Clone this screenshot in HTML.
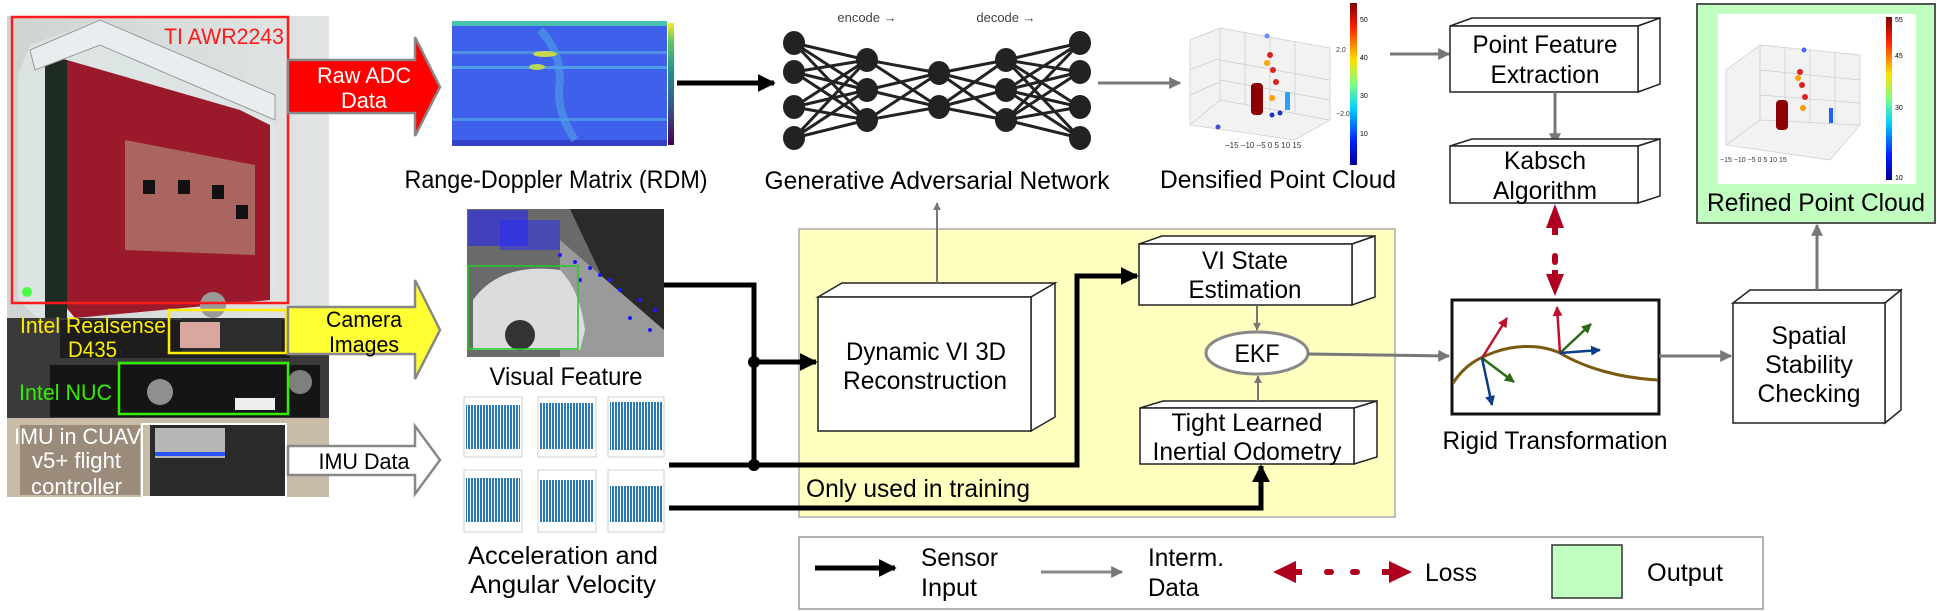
<!DOCTYPE html>
<html><head><meta charset="utf-8"><style>
html,body{margin:0;padding:0;background:#fff}
svg{display:block}
text{font-family:"Liberation Sans",sans-serif}
</style></head><body>
<svg width="1937" height="611" viewBox="0 0 1937 611" xmlns="http://www.w3.org/2000/svg">
<defs>
<marker id="gh" viewBox="0 0 10 10" refX="9" refY="5" markerWidth="4" markerHeight="4" orient="auto"><path d="M0,0 L10,5 L0,10 z" fill="#777"/></marker>
<marker id="bh" viewBox="0 0 10 10" refX="9" refY="5" markerWidth="3.6" markerHeight="3.6" orient="auto"><path d="M0,0 L10,5 L0,10 z" fill="#000"/></marker>
<marker id="rh" viewBox="0 0 10 10" refX="9" refY="5" markerWidth="3" markerHeight="3" orient="auto"><path d="M0,0 L10,5 L0,10 z" fill="#b00020"/></marker>
<marker id="gr" viewBox="0 0 10 10" refX="9" refY="5" markerWidth="4" markerHeight="4" orient="auto"><path d="M0,0 L10,5 L0,10 z" fill="#2a6a10"/></marker>
<marker id="bl" viewBox="0 0 10 10" refX="9" refY="5" markerWidth="4" markerHeight="4" orient="auto"><path d="M0,0 L10,5 L0,10 z" fill="#0a3d8a"/></marker>
<marker id="re" viewBox="0 0 10 10" refX="9" refY="5" markerWidth="4" markerHeight="4" orient="auto"><path d="M0,0 L10,5 L0,10 z" fill="#c0102a"/></marker>
<linearGradient id="jet" x1="0" y1="1" x2="0" y2="0">
<stop offset="0" stop-color="#00008f"/><stop offset="0.15" stop-color="#0020ff"/><stop offset="0.35" stop-color="#00d0ff"/><stop offset="0.5" stop-color="#7fff7f"/><stop offset="0.65" stop-color="#ffdf00"/><stop offset="0.85" stop-color="#ff2000"/><stop offset="1" stop-color="#800000"/></linearGradient>
<linearGradient id="vir" x1="0" y1="1" x2="0" y2="0"><stop offset="0" stop-color="#440154"/><stop offset="0.3" stop-color="#3b528b"/><stop offset="0.6" stop-color="#21908d"/><stop offset="0.85" stop-color="#5dc962"/><stop offset="1" stop-color="#fde725"/></linearGradient>
<linearGradient id="wall" x1="0" y1="0" x2="1" y2="0"><stop offset="0" stop-color="#cfd4d3"/><stop offset="1" stop-color="#e2e5e4"/></linearGradient>
<pattern id="imu" width="3" height="10" patternUnits="userSpaceOnUse"><rect width="3" height="10" fill="#fff"/><rect x="0" width="2" height="10" fill="#2878b5"/></pattern>
</defs>

<!-- PHOTO -->
<rect x="7" y="16" width="322" height="481" fill="url(#wall)"/>
<polygon points="18,75 30,45 100,20 275,95 275,295 40,320 18,300" fill="#dfe6e6" opacity="0.8"/>
<polygon points="60,58 240,110 270,125 270,300 75,318 60,300" fill="#9a1a2c"/>
<polygon points="125,140 255,165 255,255 125,250" fill="#b8a48e" opacity="0.55"/>
<rect x="143" y="180" width="12" height="14" fill="#111"/><rect x="178" y="180" width="12" height="14" fill="#111"/><rect x="212" y="185" width="12" height="14" fill="#111"/><rect x="236" y="205" width="12" height="14" fill="#111"/>
<rect x="45" y="60" width="22" height="260" fill="#1d2b22"/>
<polygon points="30,50 100,20 275,95 275,120 100,45 35,70" fill="#e8eef0" stroke="#999"/>
<circle cx="213" cy="305" r="13" fill="#9a9a9a"/>
<circle cx="27" cy="292" r="5" fill="#4f4"/>
<rect x="7" y="318" width="322" height="100" fill="#3a3a3a"/>
<rect x="60" y="320" width="230" height="38" fill="#1d1d1d"/>
<rect x="182" y="318" width="100" height="36" fill="#2c2c2c"/>
<rect x="180" y="322" width="40" height="26" fill="#d9a6a0"/>
<rect x="50" y="365" width="270" height="52" fill="#151515"/>
<circle cx="160" cy="392" r="13" fill="#8f8f8f"/>
<circle cx="300" cy="382" r="12" fill="#7f7f7f"/>
<rect x="235" y="398" width="40" height="12" fill="#eee"/>
<rect x="7" y="418" width="322" height="79" fill="#c8bca9"/>
<rect x="150" y="425" width="136" height="72" fill="#2a2a2a"/>
<rect x="155" y="428" width="70" height="30" fill="#b7b7b7"/>
<rect x="155" y="452" width="70" height="4" fill="#2c55ff"/>
<rect x="20" y="425" width="120" height="70" fill="#7b6b5c" opacity="0.6"/>
<rect x="12" y="17" width="276" height="286" fill="none" stroke="#ff1a1a" stroke-width="2.5"/>
<rect x="169" y="310" width="117" height="43" fill="none" stroke="#ffee00" stroke-width="2.5"/>
<rect x="119" y="363" width="169" height="51" fill="none" stroke="#33ee00" stroke-width="2.5"/>
<rect x="142" y="424" width="144" height="73" fill="none" stroke="#fff" stroke-width="2"/>
<text x="284" y="44" font-size="22" fill="#ff1a1a" text-anchor="end" textLength="120" lengthAdjust="spacingAndGlyphs">TI AWR2243</text>
<text x="20" y="333" font-size="22" fill="#ffee00" textLength="146" lengthAdjust="spacingAndGlyphs">Intel Realsense</text>
<text x="68" y="357" font-size="22" fill="#ffee00" textLength="49" lengthAdjust="spacingAndGlyphs">D435</text>
<text x="19" y="400" font-size="22" fill="#33ee00" textLength="93" lengthAdjust="spacingAndGlyphs">Intel NUC</text>
<text x="14" y="444" font-size="22" fill="#fff" textLength="127" lengthAdjust="spacingAndGlyphs">IMU in CUAV</text>
<text x="32" y="468" font-size="22" fill="#fff" textLength="89" lengthAdjust="spacingAndGlyphs">v5+ flight</text>
<text x="31" y="494" font-size="22" fill="#fff" textLength="91" lengthAdjust="spacingAndGlyphs">controller</text>

<!-- Big arrows -->
<polygon points="288,60 415,60 415,37 440,87 415,136 415,113 288,113" fill="#ff0000" stroke="#888" stroke-width="2.5"/>
<text x="364" y="83" font-size="22" fill="#fff" text-anchor="middle" textLength="94" lengthAdjust="spacingAndGlyphs">Raw ADC</text>
<text x="364" y="108" font-size="22" fill="#fff" text-anchor="middle" textLength="46" lengthAdjust="spacingAndGlyphs">Data</text>
<polygon points="288,307 415,307 415,280 440,330 415,379 415,354 288,354" fill="#ffff33" stroke="#888" stroke-width="2.5"/>
<text x="364" y="327" font-size="22" fill="#000" text-anchor="middle" textLength="76" lengthAdjust="spacingAndGlyphs">Camera</text>
<text x="364" y="352" font-size="22" fill="#000" text-anchor="middle" textLength="70" lengthAdjust="spacingAndGlyphs">Images</text>
<polygon points="288,446 415,446 415,426 440,460 415,494 415,475 288,475" fill="#fff" stroke="#888" stroke-width="2.5"/>
<text x="364" y="469" font-size="22" fill="#000" text-anchor="middle" textLength="91" lengthAdjust="spacingAndGlyphs">IMU Data</text>

<!-- RDM -->
<rect x="452" y="21" width="215" height="125" fill="#3f60ea"/>
<rect x="452" y="21" width="215" height="5" fill="#48c3b0"/>
<rect x="452" y="51" width="215" height="3" fill="#4f8fe6"/>
<rect x="452" y="66" width="215" height="3" fill="#4f9ee6"/>
<rect x="452" y="118" width="215" height="3" fill="#4a90e6"/>
<rect x="452" y="140" width="215" height="6" fill="#3340c8"/>
<path d="M540,30 Q560,50 560,80 Q555,110 575,140" stroke="#4fa0e6" stroke-width="8" fill="none" opacity="0.6"/>
<ellipse cx="545" cy="54" rx="12" ry="3" fill="#c9d84a"/>
<ellipse cx="537" cy="67" rx="8" ry="3" fill="#b8d855"/>
<rect x="668" y="23" width="6" height="122" fill="url(#vir)"/>
<text x="556" y="188" font-size="25" text-anchor="middle" textLength="303" lengthAdjust="spacingAndGlyphs">Range-Doppler Matrix (RDM)</text>

<!-- Visual feature -->
<rect x="467" y="209" width="197" height="148" fill="#6a6a6a"/>
<polygon points="570,209 664,209 664,357 640,357" fill="#2a2a2a"/>
<polygon points="560,240 664,330 664,357 560,357" fill="#9a9a9a"/>
<path d="M473,300 Q500,262 560,270 Q580,290 585,330 L580,350 L473,350 z" fill="#dcdcdc"/>
<circle cx="520" cy="335" r="15" fill="#333"/>
<g fill="#1a1aff">
<rect x="468" y="210" width="60" height="36" fill="#3030e0" opacity="0.7"/>
<rect x="500" y="220" width="60" height="30" fill="#2a2aff" opacity="0.5"/>
<circle cx="560" cy="255" r="2"/><circle cx="575" cy="262" r="2"/><circle cx="590" cy="268" r="2"/><circle cx="600" cy="275" r="2"/><circle cx="620" cy="290" r="2"/><circle cx="640" cy="300" r="2"/><circle cx="655" cy="310" r="2"/><circle cx="650" cy="330" r="2"/><circle cx="580" cy="280" r="2"/><circle cx="610" cy="280" r="2"/><circle cx="630" cy="318" r="2"/>
</g>
<rect x="468" y="266" width="110" height="83" fill="none" stroke="#2c2" stroke-width="1.5"/>
<text x="566" y="385" font-size="25" text-anchor="middle" textLength="153" lengthAdjust="spacingAndGlyphs">Visual Feature</text>

<!-- IMU plots -->
<g stroke="#bbb" stroke-width="0.7">
<rect x="464" y="397" width="58" height="60" fill="#fff"/><rect x="538" y="397" width="58" height="60" fill="#fff"/><rect x="608" y="397" width="56" height="60" fill="#fff"/>
<rect x="464" y="470" width="58" height="62" fill="#fff"/><rect x="538" y="470" width="58" height="62" fill="#fff"/><rect x="608" y="470" width="56" height="62" fill="#fff"/>
</g>
<g fill="url(#imu)">
<rect x="466" y="405" width="54" height="44"/><rect x="540" y="403" width="54" height="46"/><rect x="610" y="402" width="52" height="48"/>
<rect x="466" y="478" width="54" height="44"/><rect x="540" y="480" width="54" height="42"/><rect x="610" y="486" width="52" height="36"/>
</g>
<text x="563" y="564" font-size="25" text-anchor="middle" textLength="190" lengthAdjust="spacingAndGlyphs">Acceleration and</text>
<text x="563" y="593" font-size="25" text-anchor="middle" textLength="186" lengthAdjust="spacingAndGlyphs">Angular Velocity</text>

<!-- GAN -->
<line x1="677" y1="83" x2="774" y2="83" stroke="#000" stroke-width="5" marker-end="url(#bh)"/>
<text x="867" y="22" font-size="13" fill="#444" text-anchor="middle">encode →</text>
<text x="1006" y="22" font-size="13" fill="#444" text-anchor="middle">decode →</text>
<g stroke="#222" stroke-width="3">
<path d="M794,43L867,60M794,43L867,90M794,43L867,120M794,72L867,60M794,72L867,90M794,72L867,120M794,107L867,60M794,107L867,90M794,107L867,120M794,138L867,60M794,138L867,90M794,138L867,120"/>
<path d="M867,60L939,73M867,60L939,107M867,90L939,73M867,90L939,107M867,120L939,73M867,120L939,107"/>
<path d="M939,73L1006,60M939,73L1006,90M939,73L1006,120M939,107L1006,60M939,107L1006,90M939,107L1006,120"/>
<path d="M1080,43L1006,60M1080,43L1006,90M1080,43L1006,120M1080,72L1006,60M1080,72L1006,90M1080,72L1006,120M1080,107L1006,60M1080,107L1006,90M1080,107L1006,120M1080,138L1006,60M1080,138L1006,90M1080,138L1006,120"/>
</g>
<g fill="#222">
<ellipse cx="794" cy="43" rx="11" ry="12"/><ellipse cx="794" cy="72" rx="11" ry="12"/><ellipse cx="794" cy="107" rx="11" ry="12"/><ellipse cx="794" cy="138" rx="11" ry="12"/>
<ellipse cx="867" cy="60" rx="11" ry="12"/><ellipse cx="867" cy="90" rx="11" ry="12"/><ellipse cx="867" cy="120" rx="11" ry="12"/>
<ellipse cx="939" cy="73" rx="11" ry="12"/><ellipse cx="939" cy="107" rx="11" ry="12"/>
<ellipse cx="1006" cy="60" rx="11" ry="12"/><ellipse cx="1006" cy="90" rx="11" ry="12"/><ellipse cx="1006" cy="120" rx="11" ry="12"/>
<ellipse cx="1080" cy="43" rx="11" ry="12"/><ellipse cx="1080" cy="72" rx="11" ry="12"/><ellipse cx="1080" cy="107" rx="11" ry="12"/><ellipse cx="1080" cy="138" rx="11" ry="12"/>
</g>
<text x="937" y="189" font-size="25" text-anchor="middle" textLength="345" lengthAdjust="spacingAndGlyphs">Generative Adversarial Network</text>
<line x1="1098" y1="83" x2="1180" y2="83" stroke="#777" stroke-width="3" marker-end="url(#gh)"/>

<!-- Densified point cloud -->
<g stroke="#ccc" stroke-width="0.7" fill="none">
<polygon points="1190,40 1220,28 1330,48 1330,120 1295,140 1190,125" fill="#f2f2f2"/>
<path d="M1220,28 L1220,100 L1330,120 M1220,100 L1190,125 M1245,33V105 M1270,37V110 M1295,42V114 M1220,60L1330,80 M1220,80L1330,100 M1190,70L1220,58 M1190,95L1220,82"/>
</g>
<rect x="1251" y="83" width="12" height="32" fill="#8b0000" rx="4"/>
<g fill="#e02020"><circle cx="1270" cy="55" r="3"/><circle cx="1273" cy="70" r="3"/><circle cx="1276" cy="82" r="3"/><circle cx="1272" cy="98" r="3" fill="#ff9a00"/><circle cx="1267" cy="63" r="3" fill="#ffa500"/></g>
<rect x="1285" y="92" width="5" height="18" fill="#2aa0ff"/>
<circle cx="1267" cy="36" r="2.5" fill="#6a8aff"/><circle cx="1272" cy="115" r="2.5" fill="#2030c0"/><circle cx="1280" cy="113" r="2.5" fill="#2030c0"/><circle cx="1218" cy="127" r="2.5" fill="#4050d0"/>
<text x="1225" y="148" font-size="8" fill="#333">−15 −10 −5  0   5  10  15</text>
<text x="1336" y="52" font-size="7" fill="#333">2.0</text><text x="1336" y="116" font-size="7" fill="#333">−2.0</text>
<rect x="1350" y="3" width="7" height="162" fill="url(#jet)"/>
<text x="1360" y="22" font-size="7">50</text><text x="1360" y="60" font-size="7">40</text><text x="1360" y="98" font-size="7">30</text><text x="1360" y="136" font-size="7">10</text>
<text x="1278" y="188" font-size="25" text-anchor="middle" textLength="236" lengthAdjust="spacingAndGlyphs">Densified Point Cloud</text>
<line x1="1390" y1="54" x2="1449" y2="54" stroke="#777" stroke-width="3" marker-end="url(#gh)"/>

<!-- Yellow training region -->
<rect x="799" y="229" width="596" height="288" fill="#ffffc0" stroke="#aaa" stroke-width="1.5"/>
<text x="806" y="497" font-size="25" textLength="224" lengthAdjust="spacingAndGlyphs">Only used in training</text>

<!-- Dynamic VI 3D box -->
<g stroke="#222" stroke-width="1.5" fill="#fff">
<polygon points="818,297 842,283 1055,283 1031,297"/>
<polygon points="1031,297 1055,283 1055,417 1031,431"/>
<rect x="818" y="297" width="213" height="134"/>
</g>
<text x="926" y="360" font-size="25" text-anchor="middle" textLength="160" lengthAdjust="spacingAndGlyphs">Dynamic VI 3D</text>
<text x="925" y="389" font-size="25" text-anchor="middle" textLength="164" lengthAdjust="spacingAndGlyphs">Reconstruction</text>
<line x1="937" y1="283" x2="937" y2="203" stroke="#777" stroke-width="2" marker-end="url(#gh)"/>

<!-- VI State -->
<g stroke="#222" stroke-width="1.5" fill="#fff">
<polygon points="1139,244 1162,236 1375,236 1352,244"/>
<polygon points="1352,244 1375,236 1375,297 1352,305"/>
<rect x="1139" y="244" width="213" height="61"/>
</g>
<text x="1245" y="269" font-size="25" text-anchor="middle" textLength="86" lengthAdjust="spacingAndGlyphs">VI State</text>
<text x="1245" y="298" font-size="25" text-anchor="middle" textLength="113" lengthAdjust="spacingAndGlyphs">Estimation</text>
<!-- Tight -->
<g stroke="#222" stroke-width="1.5" fill="#fff">
<polygon points="1140,408 1163,401 1377,401 1354,408"/>
<polygon points="1354,408 1377,401 1377,457 1354,464"/>
<rect x="1140" y="408" width="214" height="56"/>
</g>
<text x="1247" y="431" font-size="25" text-anchor="middle" textLength="151" lengthAdjust="spacingAndGlyphs">Tight Learned</text>
<text x="1247" y="460" font-size="25" text-anchor="middle" textLength="189" lengthAdjust="spacingAndGlyphs">Inertial Odometry</text>
<line x1="1257" y1="305" x2="1257" y2="330" stroke="#777" stroke-width="2" marker-end="url(#gh)"/>
<line x1="1258" y1="401" x2="1258" y2="376" stroke="#777" stroke-width="2" marker-end="url(#gh)"/>
<ellipse cx="1257" cy="353" rx="51" ry="21" fill="#fff" stroke="#888" stroke-width="3"/>
<text x="1257" y="362" font-size="25" text-anchor="middle" textLength="45" lengthAdjust="spacingAndGlyphs">EKF</text>
<line x1="1308" y1="354" x2="1449" y2="356" stroke="#777" stroke-width="3" marker-end="url(#gh)"/>

<!-- Black sensor lines -->
<g fill="none" stroke="#000" stroke-width="5">
<polyline points="664,285 754,285 754,465"/>
<line x1="754" y1="362" x2="816" y2="362" marker-end="url(#bh)"/>
<polyline points="669,465 1077,465 1077,276 1137,276" marker-end="url(#bh)"/>
<polyline points="669,508 1261,508 1261,466" marker-end="url(#bh)"/>
</g>
<circle cx="754" cy="362" r="6"/><circle cx="754" cy="465" r="6"/>

<!-- Point Feature Extraction -->
<g stroke="#222" stroke-width="1.5" fill="#fff">
<polygon points="1450,26 1472,18 1660,18 1638,26"/>
<polygon points="1638,26 1660,18 1660,84 1638,92"/>
<rect x="1450" y="26" width="188" height="66"/>
</g>
<text x="1545" y="53" font-size="25" text-anchor="middle" textLength="145" lengthAdjust="spacingAndGlyphs">Point Feature</text>
<text x="1545" y="83" font-size="25" text-anchor="middle" textLength="109" lengthAdjust="spacingAndGlyphs">Extraction</text>
<line x1="1555" y1="92" x2="1555" y2="144" stroke="#777" stroke-width="3" marker-end="url(#gh)"/>
<!-- Kabsch -->
<g stroke="#222" stroke-width="1.5" fill="#fff">
<polygon points="1450,146 1472,139 1660,139 1638,146"/>
<polygon points="1638,146 1660,139 1660,196 1638,203"/>
<rect x="1450" y="146" width="188" height="57"/>
</g>
<text x="1545" y="169" font-size="25" text-anchor="middle" textLength="82" lengthAdjust="spacingAndGlyphs">Kabsch</text>
<text x="1545" y="199" font-size="25" text-anchor="middle" textLength="104" lengthAdjust="spacingAndGlyphs">Algorithm</text>
<!-- Loss -->
<polygon points="1555,204 1546,228 1564,228" fill="#b00020"/>
<rect x="1552" y="227" width="6" height="8" fill="#b00020"/>
<rect x="1552" y="253" width="6" height="12" rx="3" fill="#b00020"/>
<rect x="1552" y="270" width="6" height="6" fill="#b00020"/>
<polygon points="1555,296 1546,274 1564,274" fill="#b00020"/>

<!-- Rigid transformation -->
<rect x="1452" y="300" width="207" height="114" fill="#fff" stroke="#111" stroke-width="3"/>
<path d="M1453,383 C1465,365 1478,358 1495,352 C1515,345 1540,344 1560,353 C1585,368 1620,378 1658,380" stroke="#7a5a10" stroke-width="3" fill="none"/>
<g stroke-width="2.5">
<line x1="1482" y1="358" x2="1507" y2="318" stroke="#c0102a" marker-end="url(#re)"/>
<line x1="1482" y1="358" x2="1514" y2="382" stroke="#2a6a10" marker-end="url(#gr)"/>
<line x1="1482" y1="358" x2="1492" y2="405" stroke="#0a3d8a" marker-end="url(#bl)"/>
<line x1="1560" y1="353" x2="1557" y2="307" stroke="#c0102a" marker-end="url(#re)"/>
<line x1="1560" y1="353" x2="1591" y2="324" stroke="#2a6a10" marker-end="url(#gr)"/>
<line x1="1560" y1="353" x2="1600" y2="350" stroke="#0a3d8a" marker-end="url(#bl)"/>
</g>
<text x="1555" y="449" font-size="25" text-anchor="middle" textLength="225" lengthAdjust="spacingAndGlyphs">Rigid Transformation</text>
<line x1="1659" y1="356" x2="1731" y2="356" stroke="#777" stroke-width="3" marker-end="url(#gh)"/>

<!-- Spatial -->
<g stroke="#222" stroke-width="1.5" fill="#fff">
<polygon points="1733,303 1750,290 1901,290 1885,303"/>
<polygon points="1885,303 1901,290 1901,410 1885,423"/>
<rect x="1733" y="303" width="152" height="120"/>
</g>
<text x="1809" y="344" font-size="25" text-anchor="middle" textLength="75" lengthAdjust="spacingAndGlyphs">Spatial</text>
<text x="1809" y="373" font-size="25" text-anchor="middle" textLength="88" lengthAdjust="spacingAndGlyphs">Stability</text>
<text x="1809" y="402" font-size="25" text-anchor="middle" textLength="103" lengthAdjust="spacingAndGlyphs">Checking</text>
<line x1="1817" y1="290" x2="1817" y2="225" stroke="#777" stroke-width="3" marker-end="url(#gh)"/>

<!-- Refined point cloud -->
<rect x="1697" y="4" width="238" height="219" fill="#c0ffc0" stroke="#555" stroke-width="2"/>
<rect x="1718" y="14" width="198" height="170" fill="#fff"/>
<g stroke="#ccc" stroke-width="0.7" fill="none">
<polygon points="1726,70 1760,45 1860,55 1860,125 1830,160 1726,145" fill="#f2f2f2"/>
<path d="M1760,45 L1760,120 L1860,125 M1760,120 L1726,145 M1785,47V122 M1810,50V123 M1835,52V124 M1760,70L1860,80 M1760,95L1860,103"/>
</g>
<rect x="1776" y="100" width="12" height="30" fill="#8b0000" rx="4"/>
<g fill="#e02020"><circle cx="1800" cy="72" r="3"/><circle cx="1802" cy="85" r="3"/><circle cx="1805" cy="97" r="3"/><circle cx="1803" cy="108" r="3" fill="#ff9a00"/><circle cx="1798" cy="78" r="3" fill="#ffa500"/></g>
<rect x="1829" y="108" width="4" height="15" fill="#2060ff"/>
<circle cx="1804" cy="50" r="2.5" fill="#4a6aff"/>
<text x="1720" y="162" font-size="7" fill="#333">−15 −10 −5  0   5  10  15</text>
<rect x="1886" y="17" width="6" height="163" fill="url(#jet)"/>
<text x="1895" y="22" font-size="7">55</text><text x="1895" y="58" font-size="7">45</text><text x="1895" y="110" font-size="7">30</text><text x="1895" y="180" font-size="7">10</text>
<text x="1816" y="211" font-size="25" text-anchor="middle" textLength="218" lengthAdjust="spacingAndGlyphs">Refined Point Cloud</text>

<!-- Legend -->
<rect x="799" y="537" width="964" height="72" fill="#fff" stroke="#999" stroke-width="1.5"/>
<line x1="815" y1="568" x2="895" y2="568" stroke="#000" stroke-width="5" marker-end="url(#bh)"/>
<text x="921" y="566" font-size="25" textLength="77" lengthAdjust="spacingAndGlyphs">Sensor</text>
<text x="921" y="596" font-size="25" textLength="56" lengthAdjust="spacingAndGlyphs">Input</text>
<line x1="1041" y1="572" x2="1122" y2="572" stroke="#888" stroke-width="3" marker-end="url(#gh)"/>
<text x="1148" y="566" font-size="25" textLength="76" lengthAdjust="spacingAndGlyphs">Interm.</text>
<text x="1148" y="596" font-size="25" textLength="51" lengthAdjust="spacingAndGlyphs">Data</text>
<polygon points="1273,572 1296,561 1296,583" fill="#b00020"/>
<rect x="1294" y="569" width="8" height="6" fill="#b00020"/>
<rect x="1324" y="569" width="10" height="6" rx="3" fill="#b00020"/>
<rect x="1350" y="569" width="10" height="6" rx="3" fill="#b00020"/>
<rect x="1382" y="569" width="8" height="6" fill="#b00020"/>
<polygon points="1412,572 1389,561 1389,583" fill="#b00020"/>
<text x="1425" y="581" font-size="25" textLength="52" lengthAdjust="spacingAndGlyphs">Loss</text>
<rect x="1552" y="545" width="70" height="53" fill="#c0ffc0" stroke="#333" stroke-width="1.5"/>
<text x="1647" y="581" font-size="25" textLength="76" lengthAdjust="spacingAndGlyphs">Output</text>
</svg>
</body></html>
